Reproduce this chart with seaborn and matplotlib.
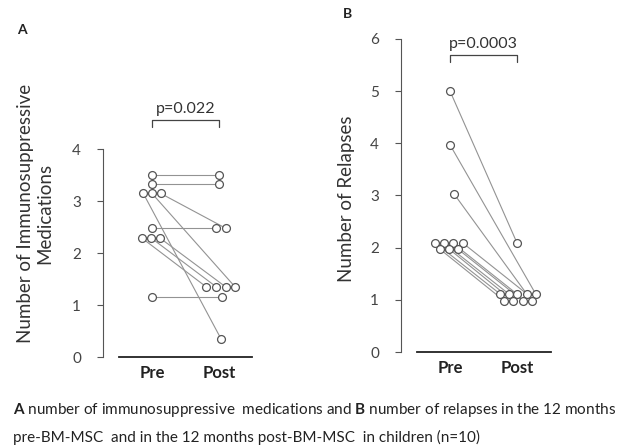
import numpy as np
import pandas as pd
import matplotlib as mpl
import matplotlib.pyplot as plt
import seaborn as sns

# panel A: immunosuppressive medications, one entry per child
med_pre = [3.5, 3.33, 3.15, 3.15, 3.15, 2.48, 2.29, 2.29, 2.29, 1.15]
med_post = [3.5, 3.33, 0.35, 1.35, 2.48, 2.48, 1.35, 1.35, 1.35, 1.15]
med_pre_jit = [0, 0, -0.13, 0, 0.13, 0, -0.15, -0.01, 0.12, 0]
med_post_jit = [0, 0, 0.03, 0.24, 0.10, -0.05, -0.19, -0.04, 0.10, 0.04]

# panel B: relapses
rel_pre = [5.0, 3.97, 3.03, 2.09, 2.09, 2.09, 2.09, 1.97, 1.97, 1.97]
rel_post = [2.09, 1.11, 0.98, 1.11, 1.11, 1.11, 1.11, 0.98, 0.98, 0.98]
rel_pre_jit = [0, 0, 0.06, -0.22, -0.09, 0.04, 0.19, -0.15, -0.01, 0.12]
rel_post_jit = [0, 0.28, 0.22, -0.25, -0.12, 0, 0.15, -0.19, -0.06, 0.09]

phases = ["Pre", "Post"]
med_ticks = [0, 1, 2, 3, 4]
rel_ticks = [0, 1, 2, 3, 4, 5, 6]

sns.set_style("white")
plt.rcParams["font.family"] = ["Lato", "DejaVu Sans"]
plt.rcParams["mathtext.fontset"] = "custom"
plt.rcParams["mathtext.rm"] = "Lato"
plt.rcParams["mathtext.bf"] = "Lato:bold"


def panel(ax, pre, post, pre_jit, post_jit, ticks, ytop, pval, ybar, ylabel):
    n = len(pre)
    df = pd.DataFrame({
        "subject": list(range(n)) * 2,
        "x": [0 + j for j in pre_jit] + [1 + j for j in post_jit],
        "value": pre + post,
    })
    sns.lineplot(data=df, x="x", y="value", units="subject", estimator=None,
                 color="#939393", linewidth=0.8, ax=ax, legend=False)
    sns.scatterplot(data=df, x="x", y="value", ax=ax, s=32, color="white",
                    edgecolor="#555555", linewidth=0.9, zorder=3, legend=False)
    # significance bracket
    ax.plot([0, 0, 1, 1], [ybar - 0.13, ybar, ybar, ybar - 0.13],
            color="#444444", lw=0.9)
    ax.text(0.5, ybar + 0.08, pval, ha="center", va="bottom",
            fontsize=11.5, color="#333333")

    ax.set_xlim(-0.5, 1.5)
    ax.set_ylim(0, ytop)
    ax.set_xticks([0, 1])
    ax.set_xticklabels(phases, fontweight="bold", fontsize=12, color="#222222")
    ax.set_yticks(ticks)
    ax.tick_params(axis="x", length=0, pad=6)
    ax.tick_params(axis="y", length=4, width=0.8, color="#555555",
                   labelsize=11, labelcolor="#444444", pad=12, left=True)
    ax.set_xlabel("")
    ax.set_ylabel(ylabel, fontsize=13.5, color="#333333", linespacing=1.15)
    for s in ["top", "right"]:
        ax.spines[s].set_visible(False)
    ax.spines["left"].set_position(("outward", 11))
    ax.spines["left"].set_bounds(ticks[0], ticks[-1])
    ax.spines["left"].set_color("#555555")
    ax.spines["left"].set_linewidth(0.8)
    ax.spines["bottom"].set_color("#222222")
    ax.spines["bottom"].set_linewidth(1.3)
    ax.patch.set_alpha(0)


fig = plt.figure(figsize=(6.2, 4.48), dpi=100)
axA = fig.add_axes([118.5 / 620, 91 / 448, 134 / 620, 270 / 448])
axB = fig.add_axes([416.5 / 620, 96 / 448, 134 / 620, 334 / 448])

panel(axA, med_pre, med_post, med_pre_jit, med_post_jit, med_ticks, 5.2,
      "p=0.022", 4.56, "Number of Immunosuppressive\nMedications")
panel(axB, rel_pre, rel_post, rel_pre_jit, rel_post_jit, rel_ticks, 6.4,
      "p=0.0003", 5.69, "Number of Relapses")
axA.yaxis.set_label_coords(-0.49, 0.53)
axB.yaxis.set_label_coords(-0.46, 0.458)

fig.text(17 / 620, 1 - 30 / 448, "A", fontweight="bold", fontsize=10,
         va="center", color="#222222")
fig.text(343 / 620, 1 - 14 / 448, "B", fontweight="bold", fontsize=10,
         va="center", color="#222222")

fig.text(13 / 620, 1 - 410 / 448,
         r"$\mathbf{A}$ number of immunosuppressive  medications and "
         r"$\mathbf{B}$ number of relapses in the 12 months",
         fontsize=11, va="center", color="#222222")
fig.text(13 / 620, 1 - 437 / 448,
         "pre-BM-MSC  and in the 12 months post-BM-MSC  in children (n=10)",
         fontsize=11, va="center", color="#222222")

fig.savefig("out.png", dpi=100)
